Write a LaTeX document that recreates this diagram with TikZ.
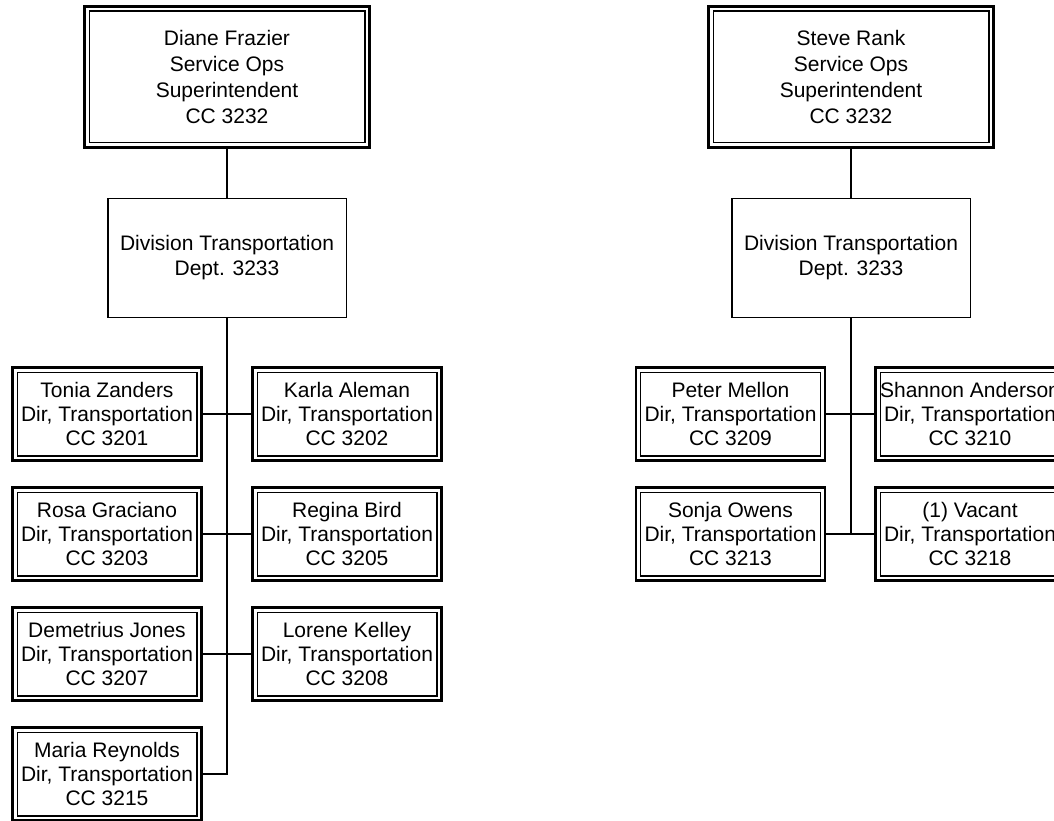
\documentclass[tikz,border=0pt]{standalone}
\usepackage{fontspec}
\setmainfont{Liberation Sans}
\begin{document}
\begin{tikzpicture}[x=1pt,y=-1pt,
  txt/.style={font=\fontsize{21}{24}\selectfont, align=center, inner sep=0pt},
  dbox/.style={txt, draw, line width=2.6pt, fill=white,
    path picture={\draw[line width=1.2pt]
      ([shift={(4.6pt,4.6pt)}]path picture bounding box.south west) rectangle
      ([shift={(-4.6pt,-4.6pt)}]path picture bounding box.north east);}},
  topbox/.style={dbox, font=\fontsize{21}{25.8}\selectfont, minimum width=285pt, minimum height=141pt},
  divbox/.style={txt, font=\fontsize{21}{25}\selectfont, draw, line width=1.5pt, minimum width=238.5pt, minimum height=118.5pt},
  pbox/.style={dbox, minimum width=189pt, minimum height=93pt},
  conn/.style={line width=1.5pt}]
\useasboundingbox (0,0) rectangle (1054,821);
\clip (0,0) rectangle (1054,821);
\fill[white] (0,0) rectangle (1054,821);

% left tree
\node[topbox] (t1) at (227,77) {Diane Frazier\\Service Ops\\Superintendent\\CC 3232};
\node[divbox] (d1) at (227,258) {Division Transportation\\Dept. 3233};
\node[pbox] (p1) at (107,414) {Tonia Zanders\\Dir, Transportation\\CC 3201};
\node[pbox] (p2) at (347,414) {Karla Aleman\\Dir, Transportation\\CC 3202};
\node[pbox] (p3) at (107,534) {Rosa Graciano\\Dir, Transportation\\CC 3203};
\node[pbox] (p4) at (347,534) {Regina Bird\\Dir, Transportation\\CC 3205};
\node[pbox] (p5) at (107,654) {Demetrius Jones\\Dir, Transportation\\CC 3207};
\node[pbox] (p6) at (347,654) {Lorene Kelley\\Dir, Transportation\\CC 3208};
\node[pbox] (p7) at (107,774) {Maria Reynolds\\Dir, Transportation\\CC 3215};
\coordinate (j1) at (227,774);

\draw[conn] (t1.south) -- (d1.north);
\draw[conn] (d1.south) -- (j1) -- (p7.east);
\draw[conn] (p1.east) -- (p2.west);
\draw[conn] (p3.east) -- (p4.west);
\draw[conn] (p5.east) -- (p6.west);

% right tree
\node[topbox] (t2) at (851,77) {Steve Rank\\Service Ops\\Superintendent\\CC 3232};
\node[divbox] (d2) at (851,258) {Division Transportation\\Dept. 3233};
\node[pbox] (q1) at (730.5,414) {Peter Mellon\\Dir, Transportation\\CC 3209};
\node[pbox] (q2) at (970,414) {Shannon Anderson\\Dir, Transportation\\CC 3210};
\node[pbox] (q3) at (730.5,534) {Sonja Owens\\Dir, Transportation\\CC 3213};
\node[pbox] (q4) at (970,534) {(1) Vacant\\Dir, Transportation\\CC 3218};
\coordinate (j2) at (851,534);

\draw[conn] (t2.south) -- (d2.north);
\draw[conn] (d2.south) -- (j2);
\draw[conn] (q1.east) -- (q2.west);
\draw[conn] (q3.east) -- (q4.west);
\end{tikzpicture}
\end{document}
